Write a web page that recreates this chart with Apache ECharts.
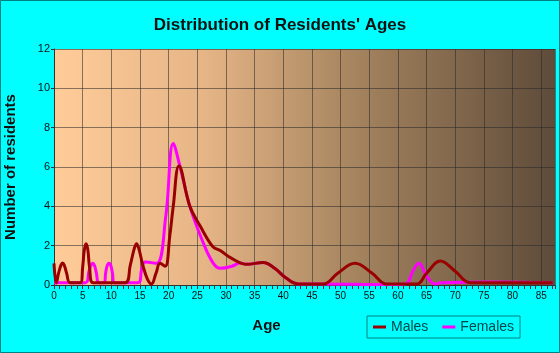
<!DOCTYPE html>
<html><head><meta charset="utf-8">
<script src="https://cdn.jsdelivr.net/npm/echarts@6/dist/echarts.min.js"></script>
<style>html,body{margin:0;padding:0;background:#00ffff}#c{width:560px;height:353px}</style>
</head><body><div id="c"></div>
<script>
var title = "Distribution of Residents' Ages";
var xTicks = [0,5,10,15,20,25,30,35,40,45,50,55,60,65,70,75,80,85];
var yTicks = [0,2,4,6,8,10,12];
var maleAges = [0,0.4,0.8,1.2,1.5,1.8,2.2,2.8,4.6,5.0,5.3,5.6,5.9,6.2,6.8,12.4,13.3,14.0,14.4,14.8,15.5,16.3,17,17.8,18.5,19.4,20.2,20.8,21.8,23.7,25.5,27.7,29,31,33.6,36.5,38.5,40.5,42.7,47,49.5,52.5,55.5,58,63.3,65,67.4,70,72.6,87];
var maleVals = [1.1,0.1,0.6,1.0,1.12,1.0,0.6,0.12,0.12,0.9,1.8,2.1,1.8,0.9,0.12,0.12,1.0,1.85,2.1,1.85,1.0,0.3,0.05,0.6,1.1,0.95,2.5,4.0,6.05,4.0,3.0,1.95,1.75,1.35,1.05,1.15,0.85,0.35,0.05,0.05,0.6,1.1,0.6,0.05,0.05,0.6,1.22,0.7,0.12,0.12];
var femaleAges = [0,5.5,6.1,6.45,6.75,7.05,7.4,7.8,8.8,9.0,9.3,9.6,9.9,10.2,10.5,14.7,15.3,15.9,17.9,19.5,20.8,22,23.7,26.1,27.8,29,31,32.5,33.6,36.5,38.5,40.5,42.7,47,58,61.3,62.6,63.3,63.7,64.1,64.9,66.5,67.5,76,87];
var femaleVals = [0.12,0.12,0.7,1.0,1.1,1.0,0.6,0.12,0.12,0.6,1.0,1.1,1.0,0.6,0.12,0.12,0.8,1.17,1.1,3.5,7.2,6.0,4.0,2.1,1.1,0.85,0.95,1.12,1.05,1.15,0.85,0.35,0.05,0.05,0.02,0.05,0.7,1.05,1.1,1.0,0.5,0.05,0.12,0.15,0.12];

function pairs(a,b){return a.map(function(x,i){return [x,b[i]];});}
var chart = echarts.init(document.getElementById('c'));
chart.setOption({
  backgroundColor:'#00ffff',
  animation:false,
  title:{text:title,left:'center',top:12,textStyle:{fontFamily:'Liberation Sans',fontWeight:'bold',fontSize:17,color:'#111'}},
  graphic:[{type:'rect',shape:{x:0.5,y:0.5,width:559,height:352},style:{fill:'none',stroke:'#008080',lineWidth:1},silent:true}],
  legend:{data:['Males','Females'],left:367,top:316,width:155,height:23,padding:[4,6,4,6],
    borderColor:'#008080',borderWidth:1,itemGap:14,itemWidth:13,itemHeight:3,icon:'rect',
    textStyle:{fontFamily:'Liberation Sans',fontSize:14,color:'#004848'}},
  grid:{left:54,right:5,top:49,bottom:68,show:true,borderWidth:0,containLabel:false,outerBoundsMode:'none',
    backgroundColor:{type:'linear',x:0,y:0,x2:1,y2:0,colorStops:[{offset:0,color:'#ffcc99'},{offset:0.3,color:'#e6b586'},{offset:0.6,color:'#a5845f'},{offset:1,color:'#5e4b3a'}]}},
  xAxis:{type:'value',min:0,max:87.4,interval:5,name:'Age',nameLocation:'middle',nameGap:33,
    nameTextStyle:{fontFamily:'Liberation Sans',fontWeight:'bold',fontSize:15,color:'#111',padding:[0,76,0,0]},
    axisLine:{show:true,lineStyle:{color:'#333'}},
    axisTick:{show:true,length:4,lineStyle:{color:'#333'}},
    minorTick:{show:true,splitNumber:5,length:4,lineStyle:{color:'#333'}},
    axisLabel:{fontFamily:'Liberation Sans',fontSize:10,color:'#111',margin:6,
      formatter:function(v){return xTicks.indexOf(v)>=0?String(v):'';}},
    splitLine:{show:true,lineStyle:{color:'rgba(40,40,40,0.55)',width:1}}},
  yAxis:{type:'value',min:0,max:12,interval:2,name:'Number of residents',nameLocation:'middle',nameGap:36,
    nameTextStyle:{fontFamily:'Liberation Sans',fontWeight:'bold',fontSize:15,color:'#111'},
    axisLine:{show:true,lineStyle:{color:'#333'}},
    axisTick:{show:true,length:3,lineStyle:{color:'#333'}},
    axisLabel:{fontFamily:'Liberation Sans',fontSize:11,color:'#111',margin:4,
      formatter:function(v){return yTicks.indexOf(v)>=0?String(v):'';}},
    splitLine:{show:true,lineStyle:{color:'rgba(40,40,40,0.55)',width:1}}},
  series:[
    {name:'Females',type:'line',data:pairs(femaleAges,femaleVals),smooth:0.4,showSymbol:false,symbol:'none',
      lineStyle:{color:'#ff00ff',width:3},itemStyle:{color:'#ff00ff'},clip:true},
    {name:'Males',type:'line',data:pairs(maleAges,maleVals),smooth:0.4,showSymbol:false,symbol:'none',
      lineStyle:{color:'#990000',width:3},itemStyle:{color:'#990000'},clip:true}
  ]
});
</script></body></html>
